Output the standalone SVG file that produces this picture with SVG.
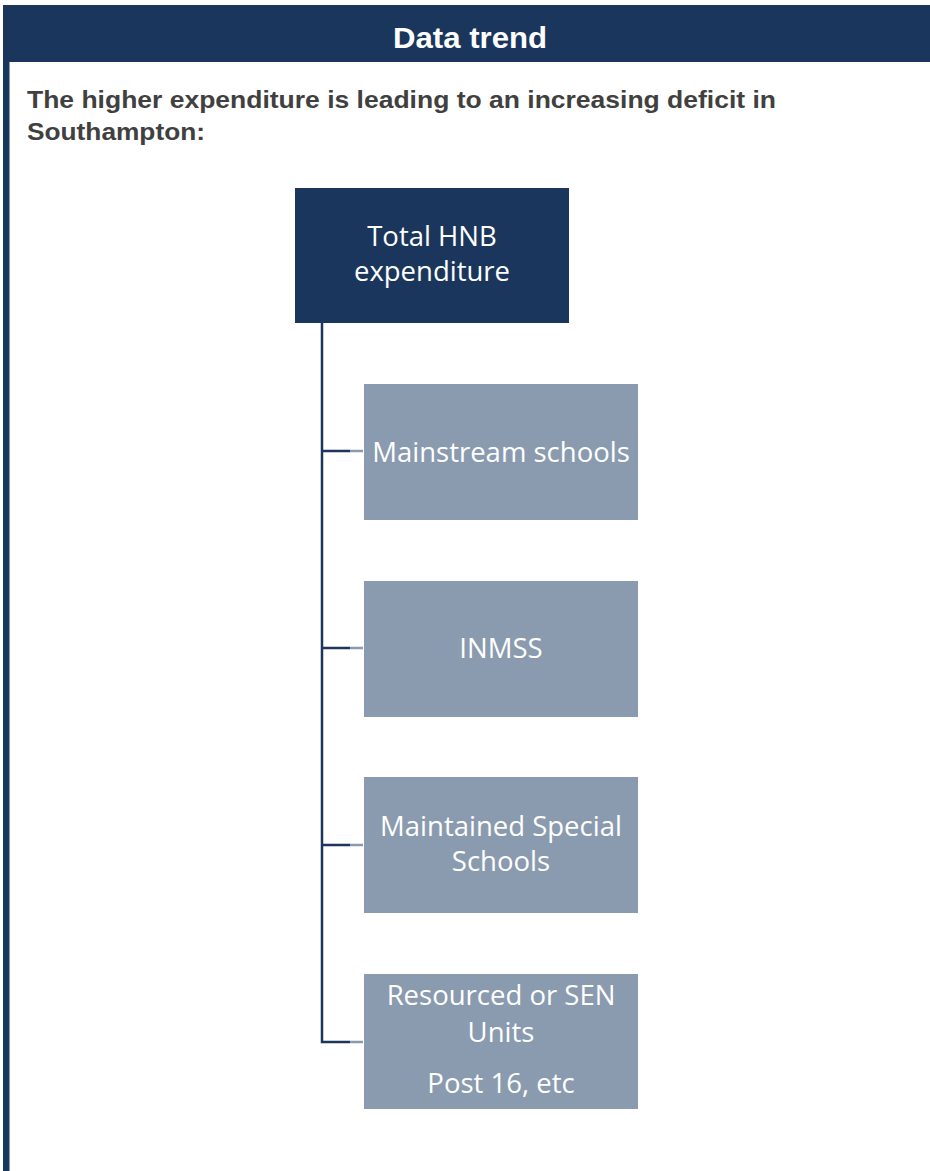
<svg xmlns="http://www.w3.org/2000/svg" width="930" height="1171" viewBox="0 0 930 1171">
<style>
.hdr{fill:#1b365d}
.title{font-family:"Liberation Sans",Arial,sans-serif;font-weight:bold;font-size:30px;fill:#ffffff}
.sub{font-family:"Liberation Sans",Arial,sans-serif;font-weight:bold;font-size:24px;fill:#404040}
.top{fill:#1b365d}
.child{fill:#8a9bb0}
.nt{font-family:"Open Sans","Noto Sans",sans-serif;font-size:27.5px;fill:#ffffff;text-anchor:middle}
.conn{stroke:#1b365d;stroke-width:2.5;fill:none}
.stub{stroke:#8a9bb0;stroke-width:2.5;fill:none}
</style>
<rect width="930" height="1171" fill="#ffffff"/>
<g id="frame">
<rect class="hdr" x="3" y="5" width="927" height="57"/>
<rect class="hdr" x="3" y="5" width="6.5" height="1166"/>
<text class="title" x="393" y="48" textLength="154" lengthAdjust="spacingAndGlyphs">Data trend</text>
<text class="sub" x="27" y="108" textLength="749" lengthAdjust="spacingAndGlyphs">The higher expenditure is leading to an increasing deficit in</text>
<text class="sub" x="27" y="140" textLength="178" lengthAdjust="spacingAndGlyphs">Southampton:</text>
</g>
<g id="connectors">
<path class="conn" d="M322 323 V1042 H350 M322 451 H350 M322 648 H350 M322 845 H350"/>
<path class="stub" d="M350 451 H363 M350 648 H363 M350 845 H363 M350 1042 H363"/>
</g>
<g id="node-total">
<rect class="top" x="295" y="188" width="274" height="135"/>
<text class="nt" x="432" y="246">Total HNB</text>
<text class="nt" x="432" y="281">expenditure</text>
</g>
<g id="node-mainstream">
<rect class="child" x="364" y="384" width="274" height="136"/>
<text class="nt" x="501" y="462">Mainstream schools</text>
</g>
<g id="node-inmss">
<rect class="child" x="364" y="581" width="274" height="136"/>
<text class="nt" x="501" y="658">INMSS</text>
</g>
<g id="node-special">
<rect class="child" x="364" y="777" width="274" height="136"/>
<text class="nt" x="501" y="836">Maintained Special</text>
<text class="nt" x="501" y="871">Schools</text>
</g>
<g id="node-resourced">
<rect class="child" x="364" y="974" width="274" height="135"/>
<text class="nt" x="501" y="1005">Resourced or SEN</text>
<text class="nt" x="501" y="1042">Units</text>
<text class="nt" x="501" y="1093">Post 16, etc</text>
</g>
</svg>
